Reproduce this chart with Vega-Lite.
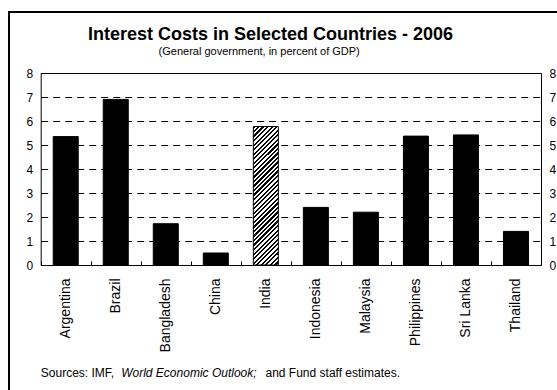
{
  "$schema": "https://vega.github.io/schema/vega-lite/v6.json",
  "width": 560,
  "height": 390,
  "autosize": {"type": "none"},
  "padding": {"left": 9, "top": 12, "right": -12, "bottom": -12},
  "background": "white",
  "config": {
    "font": "Liberation Sans",
    "view": {"stroke": "black", "strokeWidth": 2, "fill": "white"},
    "axis": {"labelColor": "black", "titleColor": "black", "domainColor": "black", "tickColor": "black"}
  },
  "title": {
    "text": "Interest Costs in Selected Countries - 2006",
    "fontSize": 18,
    "fontWeight": "bold",
    "color": "black",
    "anchor": "middle",
    "frame": "group",
    "offset": -46,
    "baseline": "alphabetic",
    "dx": -18.5
  },
  "data": {
    "values": [
      {"country": "Argentina", "value": 5.35},
      {"country": "Brazil", "value": 6.9},
      {"country": "Bangladesh", "value": 1.72},
      {"country": "China", "value": 0.5},
      {"country": "India", "value": 5.77},
      {"country": "Indonesia", "value": 2.4},
      {"country": "Malaysia", "value": 2.2},
      {"country": "Philippines", "value": 5.37},
      {"country": "Sri Lanka", "value": 5.42},
      {"country": "Thailand", "value": 1.4}
    ]
  },
  "layer": [
    {
      "mark": {"type": "bar", "width": {"band": 0.5}, "stroke": "black", "strokeWidth": 1},
      "encoding": {
        "x": {
          "field": "country", "type": "nominal", "sort": null,
          "scale": {"domain": ["Argentina", "Brazil", "Bangladesh", "China", "India", "Indonesia", "Malaysia", "Philippines", "Sri Lanka", "Thailand"], "range": [31.7, 532], "paddingInner": 0, "paddingOuter": 0},
          "axis": {
            "orient": "bottom", "offset": -137, "labelAngle": -90, "labelFontSize": 14, "labelPadding": 17,
            "tickBand": "extent", "tickSize": -4, "tickWidth": 1, "domainWidth": 1, "grid": false,
            "title": "Sources: IMF,", "titleFontSize": 12, "titleFontWeight": "normal", "titleX": 31.3, "titleY": 111,
            "titleAlign": "left", "titleAnchor": "start", "titleBaseline": "alphabetic", "titleAngle": 0
          }
        },
        "y": {
          "field": "value", "type": "quantitative",
          "scale": {"domain": [0, 8], "range": [253, 61], "nice": false, "zero": true},
          "axis": {
            "orient": "left", "offset": -31.7, "values": [0, 1, 2, 3, 4, 5, 6, 7, 8], "grid": true,
            "gridDash": [7, 5], "gridColor": "black", "gridWidth": 1, "gridOpacity": 1,
            "ticks": false, "tickSize": 0, "domain": true, "domainWidth": 1,
            "labelFontSize": 12, "labelPadding": 8, "title": null
          }
        },
        "fill": {
          "condition": {
            "test": "datum.country === 'India'",
            "value": {
              "gradient": "linear", "x1": 0, "y1": 0, "x2": 0.2064, "y2": 1.1433,
              "stops": [
                {"offset": 0, "color": "#000"},
                {"offset": 0.0139, "color": "#000"}, {"offset": 0.0139, "color": "#fff"},
                {"offset": 0.0278, "color": "#fff"}, {"offset": 0.0278, "color": "#000"},
                {"offset": 0.0417, "color": "#000"}, {"offset": 0.0417, "color": "#fff"},
                {"offset": 0.0556, "color": "#fff"}, {"offset": 0.0556, "color": "#000"},
                {"offset": 0.0694, "color": "#000"}, {"offset": 0.0694, "color": "#fff"},
                {"offset": 0.0833, "color": "#fff"}, {"offset": 0.0833, "color": "#000"},
                {"offset": 0.0972, "color": "#000"}, {"offset": 0.0972, "color": "#fff"},
                {"offset": 0.1111, "color": "#fff"}, {"offset": 0.1111, "color": "#000"},
                {"offset": 0.125, "color": "#000"}, {"offset": 0.125, "color": "#fff"},
                {"offset": 0.1389, "color": "#fff"}, {"offset": 0.1389, "color": "#000"},
                {"offset": 0.1528, "color": "#000"}, {"offset": 0.1528, "color": "#fff"},
                {"offset": 0.1667, "color": "#fff"}, {"offset": 0.1667, "color": "#000"},
                {"offset": 0.1806, "color": "#000"}, {"offset": 0.1806, "color": "#fff"},
                {"offset": 0.1944, "color": "#fff"}, {"offset": 0.1944, "color": "#000"},
                {"offset": 0.2083, "color": "#000"}, {"offset": 0.2083, "color": "#fff"},
                {"offset": 0.2222, "color": "#fff"}, {"offset": 0.2222, "color": "#000"},
                {"offset": 0.2361, "color": "#000"}, {"offset": 0.2361, "color": "#fff"},
                {"offset": 0.25, "color": "#fff"}, {"offset": 0.25, "color": "#000"},
                {"offset": 0.2639, "color": "#000"}, {"offset": 0.2639, "color": "#fff"},
                {"offset": 0.2778, "color": "#fff"}, {"offset": 0.2778, "color": "#000"},
                {"offset": 0.2917, "color": "#000"}, {"offset": 0.2917, "color": "#fff"},
                {"offset": 0.3056, "color": "#fff"}, {"offset": 0.3056, "color": "#000"},
                {"offset": 0.3194, "color": "#000"}, {"offset": 0.3194, "color": "#fff"},
                {"offset": 0.3333, "color": "#fff"}, {"offset": 0.3333, "color": "#000"},
                {"offset": 0.3472, "color": "#000"}, {"offset": 0.3472, "color": "#fff"},
                {"offset": 0.3611, "color": "#fff"}, {"offset": 0.3611, "color": "#000"},
                {"offset": 0.375, "color": "#000"}, {"offset": 0.375, "color": "#fff"},
                {"offset": 0.3889, "color": "#fff"}, {"offset": 0.3889, "color": "#000"},
                {"offset": 0.4028, "color": "#000"}, {"offset": 0.4028, "color": "#fff"},
                {"offset": 0.4167, "color": "#fff"}, {"offset": 0.4167, "color": "#000"},
                {"offset": 0.4306, "color": "#000"}, {"offset": 0.4306, "color": "#fff"},
                {"offset": 0.4444, "color": "#fff"}, {"offset": 0.4444, "color": "#000"},
                {"offset": 0.4583, "color": "#000"}, {"offset": 0.4583, "color": "#fff"},
                {"offset": 0.4722, "color": "#fff"}, {"offset": 0.4722, "color": "#000"},
                {"offset": 0.4861, "color": "#000"}, {"offset": 0.4861, "color": "#fff"},
                {"offset": 0.5, "color": "#fff"}, {"offset": 0.5, "color": "#000"},
                {"offset": 0.5139, "color": "#000"}, {"offset": 0.5139, "color": "#fff"},
                {"offset": 0.5278, "color": "#fff"}, {"offset": 0.5278, "color": "#000"},
                {"offset": 0.5417, "color": "#000"}, {"offset": 0.5417, "color": "#fff"},
                {"offset": 0.5556, "color": "#fff"}, {"offset": 0.5556, "color": "#000"},
                {"offset": 0.5694, "color": "#000"}, {"offset": 0.5694, "color": "#fff"},
                {"offset": 0.5833, "color": "#fff"}, {"offset": 0.5833, "color": "#000"},
                {"offset": 0.5972, "color": "#000"}, {"offset": 0.5972, "color": "#fff"},
                {"offset": 0.6111, "color": "#fff"}, {"offset": 0.6111, "color": "#000"},
                {"offset": 0.625, "color": "#000"}, {"offset": 0.625, "color": "#fff"},
                {"offset": 0.6389, "color": "#fff"}, {"offset": 0.6389, "color": "#000"},
                {"offset": 0.6528, "color": "#000"}, {"offset": 0.6528, "color": "#fff"},
                {"offset": 0.6667, "color": "#fff"}, {"offset": 0.6667, "color": "#000"},
                {"offset": 0.6806, "color": "#000"}, {"offset": 0.6806, "color": "#fff"},
                {"offset": 0.6944, "color": "#fff"}, {"offset": 0.6944, "color": "#000"},
                {"offset": 0.7083, "color": "#000"}, {"offset": 0.7083, "color": "#fff"},
                {"offset": 0.7222, "color": "#fff"}, {"offset": 0.7222, "color": "#000"},
                {"offset": 0.7361, "color": "#000"}, {"offset": 0.7361, "color": "#fff"},
                {"offset": 0.75, "color": "#fff"}, {"offset": 0.75, "color": "#000"},
                {"offset": 0.7639, "color": "#000"}, {"offset": 0.7639, "color": "#fff"},
                {"offset": 0.7778, "color": "#fff"}, {"offset": 0.7778, "color": "#000"},
                {"offset": 0.7917, "color": "#000"}, {"offset": 0.7917, "color": "#fff"},
                {"offset": 0.8056, "color": "#fff"}, {"offset": 0.8056, "color": "#000"},
                {"offset": 0.8194, "color": "#000"}, {"offset": 0.8194, "color": "#fff"},
                {"offset": 0.8333, "color": "#fff"}, {"offset": 0.8333, "color": "#000"},
                {"offset": 0.8472, "color": "#000"}, {"offset": 0.8472, "color": "#fff"},
                {"offset": 0.8611, "color": "#fff"}, {"offset": 0.8611, "color": "#000"},
                {"offset": 0.875, "color": "#000"}, {"offset": 0.875, "color": "#fff"},
                {"offset": 0.8889, "color": "#fff"}, {"offset": 0.8889, "color": "#000"},
                {"offset": 0.9028, "color": "#000"}, {"offset": 0.9028, "color": "#fff"},
                {"offset": 0.9167, "color": "#fff"}, {"offset": 0.9167, "color": "#000"},
                {"offset": 0.9306, "color": "#000"}, {"offset": 0.9306, "color": "#fff"},
                {"offset": 0.9444, "color": "#fff"}, {"offset": 0.9444, "color": "#000"},
                {"offset": 0.9583, "color": "#000"}, {"offset": 0.9583, "color": "#fff"},
                {"offset": 0.9722, "color": "#fff"}, {"offset": 0.9722, "color": "#000"},
                {"offset": 0.9861, "color": "#000"}, {"offset": 0.9861, "color": "#fff"},
                {"offset": 1, "color": "#fff"}
              ]
            }
          },
          "value": "black"
        }
      }
    },
    {
      "mark": {"type": "bar", "opacity": 0},
      "encoding": {
        "x": {
          "field": "country", "type": "nominal", "sort": null,
          "axis": {
            "orient": "top", "offset": -61, "labels": false, "ticks": false, "domain": true, "domainWidth": 1, "grid": false,
            "title": "(General government, in percent of GDP)", "titleFontSize": 11, "titleFontWeight": "normal",
            "titleX": 249.7, "titleY": -19, "titleAlign": "center", "titleBaseline": "alphabetic", "titleAngle": 0
          }
        },
        "y": {
          "field": "value", "type": "quantitative",
          "axis": {
            "orient": "right", "offset": -28, "values": [0, 1, 2, 3, 4, 5, 6, 7, 8], "grid": false,
            "ticks": false, "tickSize": 0, "domain": true, "domainWidth": 1,
            "labelFontSize": 12, "labelPadding": 8, "title": null
          }
        }
      }
    },
    {
      "mark": {"type": "bar", "opacity": 0},
      "encoding": {
        "x": {
          "field": "country", "type": "nominal", "sort": null,
          "axis": {
            "orient": "bottom", "offset": -137, "labels": false, "ticks": false, "domain": false, "grid": false,
            "title": "World Economic Outlook;", "titleFontSize": 12, "titleFontWeight": "normal", "titleFontStyle": "italic",
            "titleX": 111.7, "titleY": 111, "titleAlign": "left", "titleAnchor": "start", "titleBaseline": "alphabetic", "titleAngle": 0
          }
        }
      }
    },
    {
      "mark": {"type": "bar", "opacity": 0},
      "encoding": {
        "x": {
          "field": "country", "type": "nominal", "sort": null,
          "axis": {
            "orient": "bottom", "offset": -137, "labels": false, "ticks": false, "domain": false, "grid": false,
            "title": "and Fund staff estimates.", "titleFontSize": 12, "titleFontWeight": "normal",
            "titleX": 256, "titleY": 111, "titleAlign": "left", "titleAnchor": "start", "titleBaseline": "alphabetic", "titleAngle": 0
          }
        }
      }
    }
  ],
  "resolve": {"axis": {"x": "independent", "y": "independent"}}
}
